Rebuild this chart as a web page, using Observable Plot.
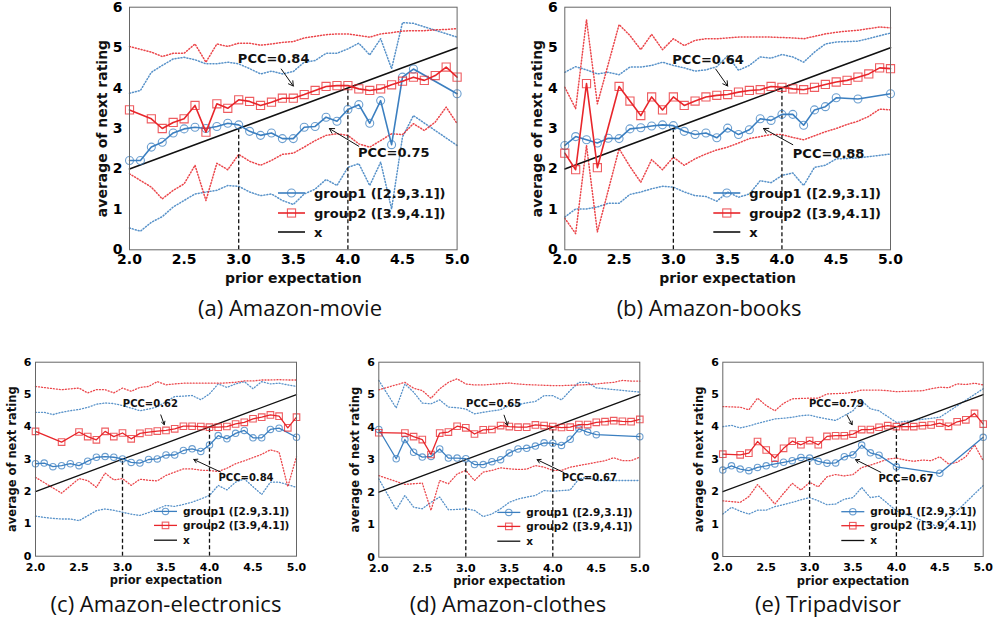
<!DOCTYPE html>
<html><head><meta charset="utf-8">
<script src="https://cdn.jsdelivr.net/npm/d3@7"></script>
<script src="https://cdn.jsdelivr.net/npm/@observablehq/plot@0.6"></script>
<style>
body{margin:0;background:#fff}
#fig{position:relative;width:994px;height:624px;overflow:hidden;background:#fff}
.panel{position:absolute}
.cap{position:absolute;font-family:"Open Sans",sans-serif;font-size:22px;line-height:22px;transform:translateX(-50%);white-space:nowrap;color:#111;z-index:5}
</style></head><body><div id="fig"></div>
<script>
// ---------------- data ----------------
const xs = [2.0,2.1,2.2,2.3,2.4,2.5,2.6,2.7,2.8,2.9,3.0,3.1,3.2,3.3,3.4,3.5,3.6,3.7,3.8,3.9,4.0,4.1,4.2,4.3,4.4,4.5,4.6,4.7,4.8,4.9,5.0];
const xTicks = [2.0,2.5,3.0,3.5,4.0,4.5,5.0];
const yTicks = [0,1,2,3,4,5,6];
const refX = [3.0, 4.0];
const legendLabels = ["group1 ([2.9,3.1])","group2 ([3.9,4.1])","x"];
const xLabel = "prior expectation";
const yLabel = "average of next rating";
const captions = ["(a) Amazon-movie","(b) Amazon-books","(c) Amazon-electronics","(d) Amazon-clothes","(e) Tripadvisor"];

// (a) Amazon-movie
const a_g1   = [2.21,2.21,2.54,2.66,2.89,2.99,3.03,3.00,3.05,3.13,3.09,2.93,2.83,2.89,2.75,2.75,3.03,3.05,3.28,3.18,3.47,3.59,3.13,3.69,2.60,4.27,4.47,null,null,null,3.86];
const a_g2   = [3.46,null,3.24,3.00,3.15,3.24,3.57,2.91,3.61,3.50,3.71,3.67,3.57,3.65,3.75,3.75,3.84,3.94,4.04,4.06,4.06,3.98,3.94,3.98,4.08,4.17,4.27,4.19,4.31,4.52,4.27];
const a_g1hi = [3.87,3.94,4.39,4.56,4.72,4.76,4.70,4.60,4.60,4.64,4.60,4.48,4.35,4.42,4.35,4.41,4.64,4.68,4.86,4.86,4.97,5.11,4.82,5.22,4.48,5.62,5.60,null,null,null,5.26];
const a_g1lo = [0.54,0.46,0.68,0.82,1.06,1.22,1.38,1.43,1.47,1.59,1.57,1.43,1.34,1.38,1.22,1.12,1.38,1.50,1.74,1.59,2.04,2.13,1.59,2.17,1.01,2.79,3.32,null,null,null,2.58];
const a_g2hi = [5.03,null,4.89,4.78,4.86,4.86,5.09,4.64,5.09,5.03,5.11,5.11,5.06,5.09,5.13,5.15,5.24,5.28,5.32,5.34,5.34,5.30,5.26,5.34,5.37,5.41,5.42,5.42,5.44,5.45,5.47];
const a_g2lo = [1.88,null,1.55,1.26,1.47,1.63,2.09,1.22,2.14,1.98,2.36,2.19,2.09,2.21,2.36,2.39,2.54,2.70,2.83,2.87,2.83,2.62,2.54,2.70,2.87,2.85,3.12,2.95,3.16,3.53,3.12];
const a_notes = [["PCC=0.84",3.32,4.72,3.39,4.47,3.50,4.05],["PCC=0.75",4.42,2.41,4.10,2.56,3.83,3.00]];

// (b) Amazon-books
const b_g1   = [2.58,2.80,2.72,2.64,2.76,2.75,2.99,3.02,3.06,3.09,3.07,2.93,2.85,2.89,2.77,3.01,2.85,2.97,3.24,3.20,3.35,3.35,3.08,3.46,3.54,3.76,null,3.73,null,null,3.86];
const b_g2   = [2.39,1.98,4.11,2.03,null,4.04,3.68,3.32,3.78,3.46,3.78,3.57,3.68,3.78,3.82,3.84,3.90,3.94,3.96,4.04,4.02,3.98,3.96,4.02,4.09,4.15,4.19,4.27,4.35,4.50,4.48];
const b_g1hi = [4.39,4.53,4.45,4.35,4.39,4.33,4.52,4.52,4.56,4.64,4.56,4.50,4.42,4.45,4.53,4.80,4.44,4.56,4.77,4.74,4.83,4.77,4.64,4.89,5.09,5.14,null,5.16,null,null,5.36];
const b_g1lo = [0.81,1.01,1.01,1.06,1.15,1.15,1.37,1.43,1.51,1.57,1.55,1.43,1.34,1.32,1.20,1.43,1.30,1.38,1.71,1.66,1.84,1.90,1.59,2.04,2.09,2.25,null,2.27,null,null,2.37];
const b_g2hi = [4.02,3.49,5.69,3.61,null,5.57,5.30,4.95,5.33,4.95,5.22,5.05,5.18,5.22,5.22,5.24,5.26,5.26,5.26,5.26,5.25,5.24,5.22,5.28,5.34,5.38,5.41,5.43,5.47,5.51,5.49];
const b_g2lo = [0.78,0.40,2.58,0.44,null,2.50,2.06,1.67,2.23,1.98,2.29,2.09,2.25,2.37,2.47,2.54,2.64,2.75,2.80,2.85,2.85,2.78,2.72,2.82,2.92,3.00,3.10,3.18,3.30,3.48,3.46];
const b_notes = [["PCC=0.64",3.32,4.71,3.39,4.47,3.50,4.05],["PCC=0.88",4.43,2.38,4.10,2.60,3.83,3.00]];

// (c) Amazon-electronics
const c_g1   = [2.86,2.88,2.77,2.80,2.86,2.80,2.94,3.06,3.08,3.06,3.01,2.90,2.88,2.99,3.01,3.13,3.13,3.27,3.32,3.24,3.44,3.73,3.63,3.80,3.89,3.66,3.66,3.92,3.96,null,3.68];
const c_g2   = [3.86,null,null,3.53,null,3.84,3.70,3.60,3.86,3.70,3.81,3.63,3.80,3.84,3.87,3.89,3.94,4.02,4.02,4.01,3.99,3.99,4.01,4.09,4.14,4.25,4.30,4.37,4.33,3.97,4.30];
const c_g1hi = [4.45,4.45,4.38,4.45,4.50,4.54,4.60,4.70,4.74,4.72,4.66,4.58,4.50,4.55,4.62,4.78,4.94,4.95,4.97,4.84,5.02,5.33,5.22,5.33,5.40,5.18,5.40,5.33,5.35,null,5.25];
const c_g1lo = [1.24,1.20,1.17,1.15,1.15,1.10,1.25,1.41,1.46,1.42,1.36,1.30,1.26,1.35,1.46,1.57,1.54,1.60,1.67,1.77,1.88,2.19,2.05,2.29,2.39,2.15,1.91,2.29,2.29,null,2.13];
const c_g2hi = [5.25,null,null,5.15,null,5.20,5.05,5.15,5.15,5.05,5.20,5.10,5.22,5.25,5.40,5.30,5.33,5.35,5.35,5.35,5.35,5.35,5.36,5.38,5.42,5.42,5.45,5.45,5.46,5.45,5.45];
const c_g2lo = [2.44,null,null,1.95,null,2.40,2.34,2.13,2.57,2.36,2.40,2.19,2.38,2.35,2.33,2.50,2.60,2.70,2.70,2.66,2.65,2.62,2.72,2.86,2.95,3.05,3.15,3.29,3.22,2.15,3.08];
const c_notes = [["PCC=0.62",3.32,4.72,3.44,4.37,3.48,4.07],["PCC=0.84",4.42,2.41,4.13,2.60,3.82,2.99]];

// (d) Amazon-clothes
const d_g1   = [3.93,null,3.03,3.62,3.23,3.08,3.10,3.33,3.05,3.05,3.03,2.85,2.85,2.94,3.00,3.21,3.33,3.35,3.42,3.52,3.51,3.44,3.63,3.95,3.85,3.77,null,null,null,null,3.71];
const d_g2   = [3.83,null,null,3.82,3.71,3.62,3.16,3.82,3.85,4.03,3.98,3.79,3.92,3.93,4.05,4.02,4.00,4.00,4.07,4.05,4.02,3.99,4.00,4.08,4.08,4.15,4.17,4.20,4.18,4.17,4.24];
const d_g1hi = [5.44,null,4.59,5.33,5.08,4.74,4.72,4.84,4.62,4.60,4.56,4.41,4.46,4.50,4.54,4.67,4.69,4.75,4.79,4.97,4.97,4.84,5.13,5.38,5.38,5.21,null,null,null,null,5.08];
const d_g1lo = [2.41,null,1.46,1.90,1.54,1.49,1.69,1.85,1.46,1.47,1.49,1.44,1.25,1.33,1.49,1.69,1.79,1.85,1.90,2.05,2.03,2.05,2.07,2.41,2.46,2.36,null,null,null,null,2.36];
const d_g2hi = [5.15,null,null,5.38,5.20,5.13,4.89,5.18,5.38,5.49,5.33,5.30,5.30,5.32,5.34,5.36,5.33,5.31,5.30,5.29,5.28,5.28,5.29,5.30,5.31,5.33,5.36,5.38,5.44,5.42,5.42];
const d_g2lo = [2.51,null,null,2.24,2.26,2.28,1.44,2.36,2.26,2.56,2.67,2.36,2.62,2.67,2.75,2.72,2.70,2.71,2.82,2.77,2.67,2.67,2.77,2.82,2.87,2.92,2.97,3.06,2.97,2.97,3.08];
const d_notes = [["PCC=0.65",3.32,4.73,3.44,4.37,3.48,4.06],["PCC=0.67",4.42,2.43,4.13,2.60,3.82,3.00]];

// (e) Tripadvisor
const e_g1   = [2.67,2.80,2.70,2.65,2.75,2.80,2.86,2.91,2.96,3.06,3.04,2.94,2.88,2.89,3.08,3.14,3.44,3.20,3.13,null,2.77,null,null,null,null,2.57,null,null,null,null,3.68];
const e_g2   = [3.16,null,3.14,3.19,3.55,3.29,3.04,3.34,3.56,3.45,3.58,3.45,3.71,3.73,3.73,3.78,3.92,3.92,3.99,4.04,4.01,4.01,4.01,4.04,4.06,4.12,4.02,4.16,4.22,4.42,4.09];
const e_g1hi = [4.01,4.05,3.97,4.03,4.11,4.18,4.25,4.27,4.30,4.35,4.37,4.30,4.25,4.20,4.35,4.50,4.81,4.56,4.50,null,4.14,null,null,null,null,4.30,null,null,null,null,5.18];
const e_g1lo = [1.31,1.52,1.40,1.31,1.43,1.43,1.54,1.60,1.67,1.75,1.82,1.72,1.60,1.62,1.77,1.82,2.13,1.82,1.86,null,1.41,null,null,null,null,0.90,null,null,null,null,2.19];
const e_g2hi = [4.63,null,4.61,4.53,4.89,4.66,4.50,4.73,4.87,4.88,4.89,4.89,5.02,5.03,5.04,5.07,5.14,5.14,5.14,5.12,5.09,5.10,5.11,5.12,5.18,5.23,5.21,5.33,5.31,5.35,5.30];
const e_g2lo = [1.72,null,1.67,1.85,2.22,1.93,1.62,1.95,2.26,2.05,2.29,2.15,2.46,2.53,2.49,2.53,2.75,2.82,2.91,3.01,3.04,2.98,2.94,2.98,2.96,3.08,2.86,2.91,3.08,3.45,2.96];
const e_notes = [["PCC=0.79",3.31,4.71,3.43,4.37,3.49,4.07],["PCC=0.67",4.11,2.41,3.82,2.60,3.53,2.99]];

// ---------------- styles / layout ----------------
const BLUE = "#3b7fc0", RED = "#e8262b";
const big = {h:292,tick:14,lab:14,leg:13,note:13,r:4,sq:4.6,lw:1.6,dotW:1.5,yDx:-27,xDy:28.5,tpX:4,tpY:7,
  legRows:[56.3,36.3,17.3],legX:[149,176,185],head:8};
const small = {h:250,tick:11,lab:11.5,leg:10.5,note:10,r:3.2,sq:3.7,lw:1.3,dotW:1.3,yDx:-23,xDy:24.6,tpX:7,tpY:4,
  legRows:[44.3,30.3,15.5],legX:[119,142,148],head:6};
const panels = [
  {S:big,left:0,top:0,w:475,mL:129,mR:18.4,mT:6.7,mB:42.7,d:[a_g1,a_g2,a_g1hi,a_g1lo,a_g2hi,a_g2lo],notes:a_notes},
  {S:big,left:480,top:0,w:475,mL:84.3,mR:65,mT:6.7,mB:42.7,d:[b_g1,b_g2,b_g1hi,b_g1lo,b_g2hi,b_g2lo],notes:b_notes},
  {S:small,left:0,top:350,w:330,mL:35,mR:34,mT:11.7,mB:44.3,d:[c_g1,c_g2,c_g1hi,c_g1lo,c_g2hi,c_g2lo],notes:c_notes},
  {S:small,left:330,top:350,w:330,mL:48.3,mR:20.7,mT:11.7,mB:43.3,d:[d_g1,d_g2,d_g1hi,d_g1lo,d_g2hi,d_g2lo],notes:d_notes},
  {S:small,left:660,top:350,w:334,mL:62.3,mR:11.3,mT:11.7,mB:44,d:[e_g1,e_g2,e_g1hi,e_g1lo,e_g2hi,e_g2lo],notes:e_notes}
];
const capPos = [[290,296],[709,296],[166,592],[508,592],[828,592]];

const fig = document.getElementById("fig");
const FONT = "DejaVu Sans";

panels.forEach((p, pi) => {
  const S = p.S;
  const series = (arr) => xs.map((x,i)=>({x, y:arr[i]})).filter(r => r.y != null);
  const [g1,g2,g1hi,g1lo,g2hi,g2lo] = p.d.map(series);
  const notes = p.notes.map(n => ({label:n[0],tx:n[1],ty:n[2],x1:n[3],y1:n[4],x2:n[5],y2:n[6]}));
  const dash = "1,2";
  const dot = (data, col) => Plot.line(data, {x:"x", y:"y", stroke:col, strokeWidth:S.dotW, strokeDasharray:dash, strokeOpacity:0.85});
  const svg = Plot.plot({
    width: p.w, height: S.h,
    marginLeft: p.mL, marginRight: p.mR, marginTop: p.mT, marginBottom: p.mB,
    x: {domain:[2,5]}, y: {domain:[0,6]},
    style: {fontFamily: FONT, fontWeight: "bold", fontSize: S.tick + "px", color:"#000", background:"transparent", overflow:"visible"},
    marks: [
      dot(g1hi, BLUE), dot(g1lo, BLUE), dot(g2hi, RED), dot(g2lo, RED),
      Plot.line(xTicks, {x: d=>d, y: d=>d, stroke:"#111", strokeWidth:S.lw}),
      Plot.ruleX(refX, {x: d=>d, y1: 0, y2: d=>d, stroke:"#111", strokeWidth:1.3, strokeDasharray:"4,2.5"}),
      Plot.line(g1, {x:"x", y:"y", stroke:BLUE, strokeWidth:S.lw}),
      Plot.dot(g1, {x:"x", y:"y", r:S.r, symbol:"circle", stroke:BLUE, strokeOpacity:0.75, strokeWidth:1.1, fill:"none"}),
      Plot.line(g2, {x:"x", y:"y", stroke:RED, strokeWidth:S.lw}),
      Plot.dot(g2, {x:"x", y:"y", r:S.sq, symbol:"square", stroke:RED, strokeOpacity:0.75, strokeWidth:1.1, fill:"none"}),
      Plot.arrow(notes, {x1:"x1", y1:"y1", x2:"x2", y2:"y2", stroke:"#111", strokeWidth:1, headLength:S.head}),
      Plot.text(notes, {x:"tx", y:"ty", text:"label", fontSize:S.note, fontWeight:"bold", fill:"#111"}),
      Plot.frame({stroke:"#666", strokeWidth:1}),
      Plot.axisX({ticks:xTicks, tickFormat:d3.format(".1f"), tickSize:0, tickPadding:S.tpX, fontSize:S.tick, label:null}),
      Plot.axisY({ticks:yTicks, tickFormat:d3.format("d"), tickSize:0, tickPadding:S.tpY, fontSize:S.tick, label:null}),
      Plot.text([xLabel], {frameAnchor:"bottom", dy:S.xDy, text:d=>d, fontSize:S.lab, fontWeight:"bold", textAnchor:"middle", lineAnchor:"middle", fill:"#111"}),
      Plot.text([yLabel], {frameAnchor:"left", dx:S.yDx, rotate:-90, text:d=>d, fontSize:S.lab, fontWeight:"bold", textAnchor:"middle", lineAnchor:"middle", fill:"#111"})
    ]
  });
  svg.classList.add("panel");
  svg.style.position = "absolute";
  svg.style.left = p.left + "px";
  svg.style.top = p.top + "px";
  svg.style.maxWidth = "none";

  // legend (inside the axes, lower right)
  const fx = p.mL, fb = S.h - p.mB;
  const g = d3.select(svg).append("g").attr("font-family", FONT).attr("font-weight","bold").attr("font-size", S.leg);
  const cols = [BLUE, RED, "#111"];
  legendLabels.forEach((lab, i) => {
    const y = fb - S.legRows[i];
    const x0 = fx + S.legX[0], x1 = fx + S.legX[1], xm = (x0 + x1) / 2;
    g.append("line").attr("x1", x0).attr("x2", x1).attr("y1", y).attr("y2", y)
      .attr("stroke", cols[i]).attr("stroke-width", S.lw);
    if (i === 0) g.append("circle").attr("cx", xm).attr("cy", y).attr("r", S.r)
      .attr("fill","none").attr("stroke", BLUE).attr("stroke-opacity",0.75).attr("stroke-width",1.1);
    if (i === 1) { const s = S.sq * 1.77; g.append("rect").attr("x", xm - s/2).attr("y", y - s/2).attr("width", s).attr("height", s)
      .attr("fill","none").attr("stroke", RED).attr("stroke-opacity",0.75).attr("stroke-width",1.1); }
    g.append("text").attr("x", fx + S.legX[2]).attr("y", y).attr("dy","0.35em").attr("text-anchor","start").attr("fill","#111").text(lab);
  });
  fig.appendChild(svg);

  const cap = document.createElement("div");
  cap.className = "cap";
  cap.textContent = captions[pi];
  cap.style.left = capPos[pi][0] + "px";
  cap.style.top = capPos[pi][1] + "px";
  fig.appendChild(cap);
});
</script></body></html>
